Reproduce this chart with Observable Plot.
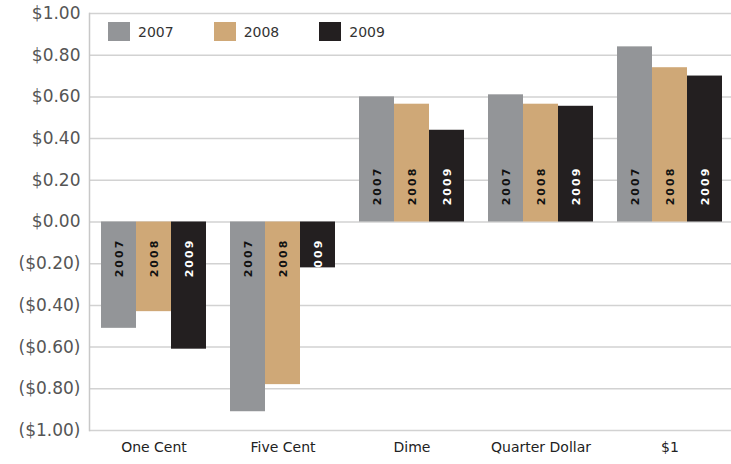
<!DOCTYPE html>
<html><head><meta charset="utf-8">
<script src="https://cdn.jsdelivr.net/npm/d3@7"></script>
<script src="https://cdn.jsdelivr.net/npm/@observablehq/plot@0.6"></script>
<style>
body{margin:0;background:#fff;overflow:hidden;}
#wrap{position:relative;width:731px;height:464px;overflow:hidden;}
.legend{position:absolute;top:22px;left:108px;display:flex;align-items:center;font:14px "DejaVu Sans",sans-serif;color:#333;}
.legend .item{display:flex;align-items:center;}
.legend .sw{width:22px;height:19px;margin-right:8px;}
g[aria-label="text"] text{letter-spacing:2px;}
</style></head><body><div id="wrap"></div>
<script>
const categories = ["One Cent", "Five Cent", "Dime", "Quarter Dollar", "$1"];
const years = ["2007", "2008", "2009"];
const values2007 = [-0.51, -0.91, 0.60, 0.61, 0.84];
const values2008 = [-0.43, -0.78, 0.565, 0.565, 0.74];
const values2009 = [-0.61, -0.22, 0.44, 0.555, 0.70];
const yTicks = [-1, -0.8, -0.6, -0.4, -0.2, 0, 0.2, 0.4, 0.6, 0.8, 1];
const colors = ["#939598", "#cfa877", "#231f20"];
const labelColors = ["#111", "#111", "#fff"];

const series = [values2007, values2008, values2009];
const data = categories.flatMap((c, i) => series.map((v, j) => ({category: c, year: years[j], value: v[i]})));
const fmt = v => { const s = "$" + Math.abs(v).toFixed(2); return v < -1e-9 ? "(" + s + ")" : s; };

const labelMarks = years.flatMap((yr, j) => [
  Plot.text(data.filter(d => d.year === yr && d.value > 0), {
    fx: "category", x: "year", y: () => 0, text: "year", rotate: -90, dy: -36,
    textAnchor: "middle", fill: labelColors[j], fontSize: 11, fontWeight: "bold",
    fontFamily: "DejaVu Sans"
  }),
  Plot.text(data.filter(d => d.year === yr && d.value < 0), {
    fx: "category", x: "year", y: () => 0, text: "year", rotate: -90, dy: 36,
    textAnchor: "middle", fill: labelColors[j], fontSize: 11, fontWeight: "bold",
    fontFamily: "DejaVu Sans"
  })
]);

const chart = Plot.plot({
  width: 731, height: 464,
  marginLeft: 87, marginRight: -4, marginTop: 13, marginBottom: 34,
  style: {fontFamily: "DejaVu Sans", background: "#fff", overflow: "hidden"},
  fx: {domain: categories, paddingInner: 0, paddingOuter: 0},
  x: {domain: years, paddingInner: 0, paddingOuter: 0.34, axis: null},
  y: {domain: [-1, 1]},
  color: {domain: years, range: colors},
  marks: [
    Plot.ruleY(yTicks, {stroke: "#d2d2d2", strokeWidth: 1.5}),
    Plot.frame({anchor: "left", fx: "One Cent", stroke: "#c8c8c8", strokeWidth: 1.5}),
    Plot.barY(data, {fx: "category", x: "year", y: "value", fill: "year"}),
    ...labelMarks,
    Plot.axisY({ticks: yTicks, tickFormat: fmt, tickSize: 0, tickPadding: 9, fontSize: 17, fill: "#555", label: null}),
    Plot.axisFx({anchor: "bottom", tickSize: 0, tickPadding: 12, fontSize: 14, fill: "#222", label: null})
  ]
});
const wrap = document.getElementById("wrap");
wrap.appendChild(chart);
const legend = document.createElement("div");
legend.className = "legend";
years.forEach((yr, j) => {
  const item = document.createElement("div");
  item.className = "item";
  item.style.marginRight = "40px";
  const sw = document.createElement("div");
  sw.className = "sw";
  sw.style.background = colors[j];
  const t = document.createElement("span");
  t.textContent = yr;
  item.appendChild(sw); item.appendChild(t);
  legend.appendChild(item);
});
wrap.appendChild(legend);
</script></body></html>
